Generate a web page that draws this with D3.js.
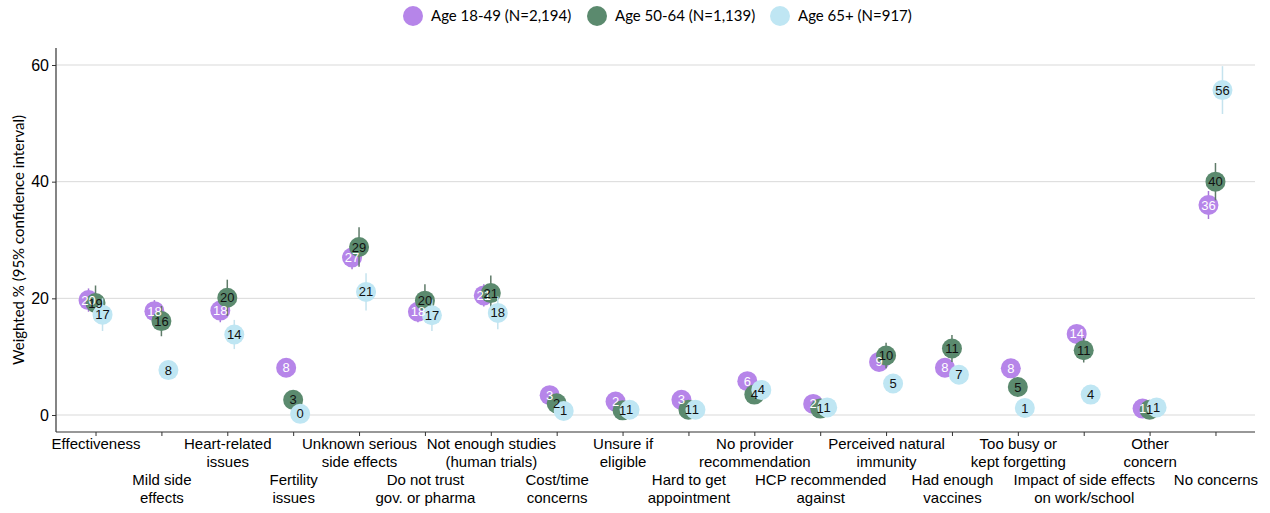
<!doctype html>
<html lang="en">
<head>
    <meta charset="utf-8">
    <title>Vaccine concerns by age</title>
    <script src="https://cdnjs.cloudflare.com/ajax/libs/d3/7.8.5/d3.min.js"></script>
    <style>
        body { margin: 0; background: #fff; }
        svg { font-family: Lato, "Liberation Sans", sans-serif; }
        .grid line { stroke: #d9d9d9; stroke-width: 1; }
        .dot-label { font-family: "Liberation Sans", Arial, sans-serif; font-size: 13px; }
        .axis text { fill: #000; }
    </style>
</head>
<body>
    <div id="chart"></div>
    <script>

        // categories (labels split on "|" into two lines)
        var categories = [
            "Effectiveness", "Mild side|effects", "Heart-related|issues", "Fertility|issues",
            "Unknown serious|side effects", "Do not trust|gov. or pharma", "Not enough studies|(human trials)",
            "Cost/time|concerns", "Unsure if|eligible", "Hard to get|appointment",
            "No provider|recommendation", "HCP recommended|against", "Perceived natural|immunity",
            "Had enough|vaccines", "Too busy or|kept forgetting", "Impact of side effects|on work/school",
            "Other|concern", "No concerns"
        ];

        var seriesNames = ["Age 18-49 (N=2,194)", "Age 50-64 (N=1,139)", "Age 65+ (N=917)"];

        var age1849 = [19.7, 17.8, 17.9, 8.1, 27.0, 17.7, 20.5, 3.4, 2.3, 2.6, 5.8, 1.9, 9.1, 8.1, 8.0, 13.9, 1.1, 36.0];
        var age5064 = [19.2, 16.1, 20.1, 2.6, 28.8, 19.6, 20.9, 2.0, 0.8, 0.9, 3.5, 1.1, 10.2, 11.4, 4.8, 11.1, 0.9, 40.0];
        var age65   = [17.2, 7.7, 13.8, 0.2, 21.1, 17.1, 17.5, 0.7, 0.9, 0.9, 4.3, 1.3, 5.4, 6.9, 1.2, 3.5, 1.3, 55.7];

        // half-width of the 95% CI
        var ci1849 = [2.0, 1.9, 2.0, 1.2, 2.0, 1.8, 1.9, 0.8, 0.7, 0.7, 1.0, 0.6, 1.2, 1.1, 1.1, 1.4, 0.4, 2.4];
        var ci5064 = [3.0, 2.6, 3.1, 1.0, 3.4, 2.8, 3.0, 0.9, 0.5, 0.6, 1.2, 0.7, 2.2, 2.3, 1.4, 2.1, 0.6, 3.2];
        var ci65   = [2.8, 1.6, 2.5, 0.3, 3.2, 2.7, 2.8, 0.5, 0.6, 0.6, 1.3, 0.7, 1.5, 1.6, 0.7, 1.2, 0.7, 4.1];

        var yTicks = [0, 20, 40, 60];

        var colors = ["#b685e9", "#5b8a6e", "#bfe6f3"];
        var barColors = ["#a777d8", "#5f7b69", "#c5e3ee"];
        var textColors = ["#ffffff", "#111111", "#111111"];
        var offsets = [-7, 0, 7];

        var series = [
            { name: seriesNames[0], values: age1849, ci: ci1849 },
            { name: seriesNames[1], values: age5064, ci: ci5064 },
            { name: seriesNames[2], values: age65, ci: ci65 }
        ];

        var width = 1270, height = 513;
        var plotLeft = 56, plotRight = 1255, plotTop = 48, plotBottom = 432;

        var x = d3.scalePoint().domain(d3.range(categories.length)).range([plotLeft, plotRight]).padding(0.6);
        var y = d3.scaleLinear().domain([0, 60]).range([415, 65]);

        var svg = d3.select("#chart").append("svg")
            .attr("width", width)
            .attr("height", height);

        // gridlines
        svg.append("g").attr("class", "grid")
            .selectAll("line").data(yTicks).enter().append("line")
            .attr("x1", plotLeft).attr("x2", plotRight)
            .attr("y1", function(d) { return y(d); })
            .attr("y2", function(d) { return y(d); });

        // y axis
        var yAxis = svg.append("g").attr("class", "axis")
            .attr("transform", "translate(" + plotLeft + ",0)")
            .call(d3.axisLeft(y).tickValues(yTicks).tickSize(4).tickPadding(3));
        yAxis.select(".domain").remove();
        yAxis.selectAll(".tick line").attr("stroke", "#333");
        yAxis.selectAll("text").style("font-size", "16px");
        svg.append("line")
            .attr("x1", plotLeft).attr("x2", plotLeft).attr("y1", plotTop).attr("y2", plotBottom)
            .attr("stroke", "#333").attr("stroke-width", 1.2);

        var yTitleY = (plotTop + plotBottom) / 2;
        svg.append("text")
            .attr("transform", "translate(24," + yTitleY + ") rotate(-90)")
            .attr("text-anchor", "middle")
            .style("font-size", "15px")
            .text("Weighted % (95% confidence interval)");

        // x axis
        var xAxis = svg.append("g").attr("class", "axis")
            .attr("transform", "translate(0," + plotBottom + ")")
            .call(d3.axisBottom(x).tickSize(4).tickFormat(""));
        xAxis.select(".domain").attr("d", "M" + plotLeft + ",0H" + plotRight).attr("stroke", "#333").attr("stroke-width", 1.2);
        xAxis.selectAll(".tick line").attr("stroke", "#333");

        xAxis.selectAll(".tick").append("text")
            .attr("text-anchor", "middle")
            .style("font-size", "15px")
            .attr("fill", "#000")
            .each(function(d) {
                var lines = categories[d].split("|");
                var base = d % 2 === 0 ? 17 : 53;
                d3.select(this).selectAll("tspan").data(lines).enter().append("tspan")
                    .attr("x", 0)
                    .attr("y", function(t, i) { return base + i * 18; })
                    .text(function(t) { return t; });
            });

        // error bars, then dots, per series
        series.forEach(function(s, k) {
            var g = svg.append("g");
            g.selectAll("line").data(s.values).enter().append("line")
                .attr("x1", function(d, i) { return x(i) + offsets[k]; })
                .attr("x2", function(d, i) { return x(i) + offsets[k]; })
                .attr("y1", function(d, i) { return y(Math.max(0, d - s.ci[i])); })
                .attr("y2", function(d, i) { return y(d + s.ci[i]); })
                .attr("stroke", barColors[k])
                .attr("stroke-width", 1.5);
            g.selectAll("circle").data(s.values).enter().append("circle")
                .attr("cx", function(d, i) { return x(i) + offsets[k]; })
                .attr("cy", function(d) { return y(d); })
                .attr("r", 10)
                .attr("fill", colors[k]);
        });

        series.forEach(function(s, k) {
            svg.append("g").selectAll("text").data(s.values).enter().append("text")
                .attr("class", "dot-label")
                .attr("x", function(d, i) { return x(i) + offsets[k]; })
                .attr("y", function(d) { return y(d); })
                .attr("dy", "0.35em")
                .attr("text-anchor", "middle")
                .attr("fill", textColors[k])
                .text(function(d) { return Math.round(d); });
        });

        // legend
        var legendX = [413, 597, 780];
        var legend = svg.append("g").selectAll("g").data(seriesNames).enter().append("g")
            .attr("transform", function(d, i) { return "translate(" + legendX[i] + ",16)"; });
        legend.append("circle").attr("r", 10).attr("fill", function(d, i) { return colors[i]; });
        legend.append("text")
            .attr("x", 18).attr("dy", "0.35em")
            .style("font-size", "15px")
            .text(function(d) { return d; });

    </script>
</body>
</html>
